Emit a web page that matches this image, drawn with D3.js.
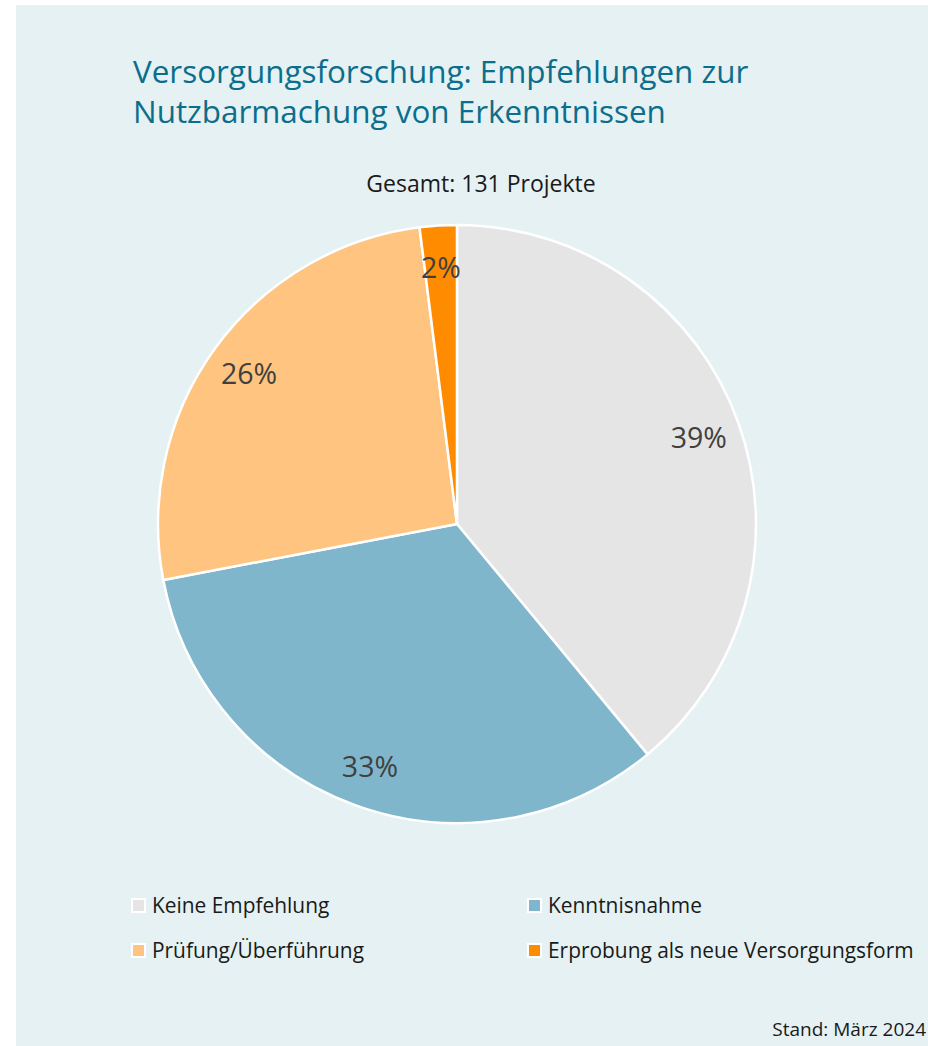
<!DOCTYPE html>
<html>
<head>
<meta charset="utf-8">
<script src="https://cdn.jsdelivr.net/npm/d3@7"></script>
<style>
  body { margin: 0; background: #ffffff; }
  svg { display: block; }
  text { font-family: "Open Sans", sans-serif; }
</style>
</head>
<body>
<div id="chart"></div>
<script>
var width = 928;
var height = 1046;

// shares in percent (131 projects total)
var categories = ["Keine Empfehlung", "Kenntnisnahme", "Prüfung/Überführung", "Erprobung als neue Versorgungsform"];
var shares = [39, 33, 26, 2];
var colors = ["#e5e5e5", "#80b6cb", "#ffc47f", "#ff8c00"];
var titleLines = ["Versorgungsforschung: Empfehlungen zur", "Nutzbarmachung von Erkenntnissen"];
var subtitle = "Gesamt: 131 Projekte";
var footnote = "Stand: März 2024";

var data = categories.map(function(c, i) {
  return { name: c, share: shares[i], color: colors[i] };
});

var svg = d3.select("#chart")
  .append("svg")
  .attr("width", width)
  .attr("height", height);

// panel background
svg.append("rect")
  .attr("x", 16)
  .attr("y", 5)
  .attr("width", width - 16)
  .attr("height", height - 5)
  .attr("fill", "#e5f1f3");

// title
var title = svg.append("text")
  .attr("x", 133)
  .attr("y", 83)
  .attr("fill", "#0a6e8c")
  .style("font-size", "31.4px");
title.selectAll("tspan")
  .data(titleLines)
  .enter().append("tspan")
  .attr("x", 133)
  .attr("dy", function(d, i) { return i === 0 ? 0 : 40; })
  .text(function(d) { return d; });

svg.append("text")
  .attr("x", 481)
  .attr("y", 192)
  .attr("text-anchor", "middle")
  .attr("fill", "#1a1a1a")
  .style("font-size", "23px")
  .text(subtitle);

// pie
var cx = 457, cy = 524, radius = 299;
var pie = d3.pie().sort(null).value(function(d) { return d.share; });
var arc = d3.arc().innerRadius(0).outerRadius(radius);
var labelArc = d3.arc().innerRadius(257).outerRadius(257);

var g = svg.append("g")
  .attr("transform", "translate(" + cx + "," + cy + ")");

var slices = g.selectAll(".slice")
  .data(pie(data))
  .enter().append("g")
  .attr("class", "slice");

slices.append("path")
  .attr("d", arc)
  .attr("fill", function(d) { return d.data.color; })
  .attr("stroke", "#ffffff")
  .attr("stroke-width", 2.5)
  .attr("stroke-linejoin", "round");

slices.append("text")
  .attr("transform", function(d) { return "translate(" + labelArc.centroid(d) + ")"; })
  .attr("text-anchor", "middle")
  .attr("dy", "0.38em")
  .attr("fill", "#404040")
  .style("font-size", "28.5px")
  .text(function(d) { return d.data.share + "%"; });

// legend
var legend = svg.selectAll(".legend")
  .data(data)
  .enter().append("g")
  .attr("class", "legend")
  .attr("transform", function(d, i) {
    return "translate(" + (i % 2 === 0 ? 131 : 527) + "," + (898 + Math.floor(i / 2) * 45) + ")";
  });

legend.append("rect")
  .attr("x", 1)
  .attr("y", 1)
  .attr("width", 13)
  .attr("height", 13)
  .attr("fill", function(d) { return d.color; })
  .attr("stroke", "#ffffff")
  .attr("stroke-width", 2);

legend.append("text")
  .attr("x", 21)
  .attr("y", 15)
  .attr("fill", "#1a1a1a")
  .style("font-size", "20.9px")
  .text(function(d) { return d.name; });

svg.append("text")
  .attr("x", 926)
  .attr("y", 1036)
  .attr("text-anchor", "end")
  .attr("fill", "#1a1a1a")
  .style("font-size", "19px")
  .text(footnote);
</script>
</body>
</html>
